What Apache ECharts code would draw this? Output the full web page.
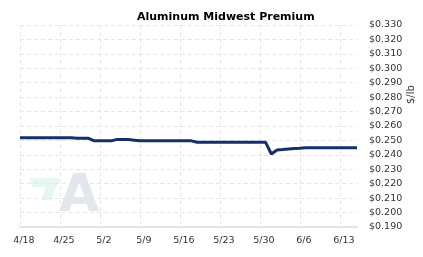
<!DOCTYPE html>
<html>
<head>
<meta charset="utf-8">
<script src="https://cdn.jsdelivr.net/npm/echarts@6/dist/echarts.min.js"></script>
<style>
    html, body { margin: 0; padding: 0; background: #fff; }
    #chart { width: 423px; height: 257px; }
</style>
</head>
<body>
<div id="chart"></div>
<script>
// daily dates shown on the x axis
var dates = [
    '4/18', '4/19', '4/20', '4/21', '4/22', '4/23', '4/24', '4/25', '4/26', '4/27',
    '4/28', '4/29', '4/30', '5/1', '5/2', '5/3', '5/4', '5/5', '5/6', '5/7',
    '5/8', '5/9', '5/10', '5/11', '5/12', '5/13', '5/14', '5/15', '5/16', '5/17',
    '5/18', '5/19', '5/20', '5/21', '5/22', '5/23', '5/24', '5/25', '5/26', '5/27',
    '5/28', '5/29', '5/30', '5/31', '6/1', '6/2', '6/3', '6/4', '6/5', '6/6',
    '6/7', '6/8', '6/9', '6/10', '6/11', '6/12', '6/13', '6/14', '6/15', '6/16'
];

// premium, $/lb
var premium = [
    0.2518, 0.2518, 0.2518, 0.2518, 0.2518, 0.2518, 0.2518, 0.2518, 0.2518, 0.2518,
    0.2515, 0.2515, 0.2515, 0.2497, 0.2497, 0.2497, 0.2497, 0.2507, 0.2507, 0.2507,
    0.2502, 0.2497, 0.2497, 0.2497, 0.2497, 0.2497, 0.2497, 0.2497, 0.2497, 0.2497,
    0.2497, 0.2487, 0.2487, 0.2487, 0.2487, 0.2487, 0.2487, 0.2487, 0.2487, 0.2487,
    0.2487, 0.2487, 0.2487, 0.2487, 0.2406, 0.2434, 0.2437, 0.2441, 0.2444, 0.2446,
    0.2449, 0.2449, 0.2449, 0.2449, 0.2449, 0.2449, 0.2449, 0.2449, 0.2449, 0.2449
];

var yMin = 0.19;
var yMax = 0.33;
var yStep = 0.01;

var font = 'DejaVu Sans';
var chart = echarts.init(document.getElementById('chart'));

var option = {
    backgroundColor: '#fff',
    animation: false,
    title: {
        text: 'Aluminum Midwest Premium',
        left: 132,
        top: 7,
        textStyle: {
            fontFamily: font,
            fontSize: 11,
            fontWeight: 'bold',
            color: '#000'
        }
    },
    graphic: [
        // watermark logo
        {
            type: 'polygon',
            z: -1,
            shape: {
                points: [[30, 178], [60, 178], [51, 200], [41, 200], [46, 187], [32, 187]]
            },
            style: { fill: '#e5f7ef' }
        },
        {
            type: 'text',
            z: -1,
            left: 59,
            top: 171,
            style: {
                text: 'A',
                font: 'bold 52px "DejaVu Sans"',
                fill: '#e3e6ed'
            }
        },
        // unit label
        {
            type: 'text',
            x: 406,
            y: 104,
            rotation: Math.PI / 2,
            style: {
                text: '$/lb',
                font: '10px "DejaVu Sans"',
                fill: '#333'
            }
        }
    ],
    grid: {
        left: 20,
        top: 25,
        right: 66,
        bottom: 30
    },
    xAxis: {
        type: 'category',
        boundaryGap: false,
        data: dates,
        axisLine: {
            lineStyle: { color: '#e4e4e4', width: 2 }
        },
        axisTick: { show: false },
        axisLabel: {
            interval: 6,
            margin: 9,
            padding: [0, 0, 0, 8],
            fontFamily: font,
            fontSize: 9.5,
            color: '#333'
        },
        splitLine: {
            show: true,
            interval: 6,
            lineStyle: { color: '#e6e6e6', type: [4, 3] }
        }
    },
    yAxis: {
        type: 'value',
        position: 'right',
        min: yMin,
        max: yMax,
        interval: yStep,
        axisLine: { show: false },
        axisTick: { show: false },
        axisLabel: {
            margin: 12,
            fontFamily: font,
            fontSize: 9.5,
            color: '#333',
            formatter: function (v) {
                return '$' + v.toFixed(3);
            }
        },
        splitLine: {
            lineStyle: { color: '#e6e6e6', type: [4, 3] }
        }
    },
    series: [{
        type: 'line',
        symbol: 'none',
        data: premium,
        lineStyle: { color: '#142f6c', width: 3 },
        itemStyle: { color: '#142f6c' }
    }]
};
chart.setOption(option);
</script>
</body>
</html>
